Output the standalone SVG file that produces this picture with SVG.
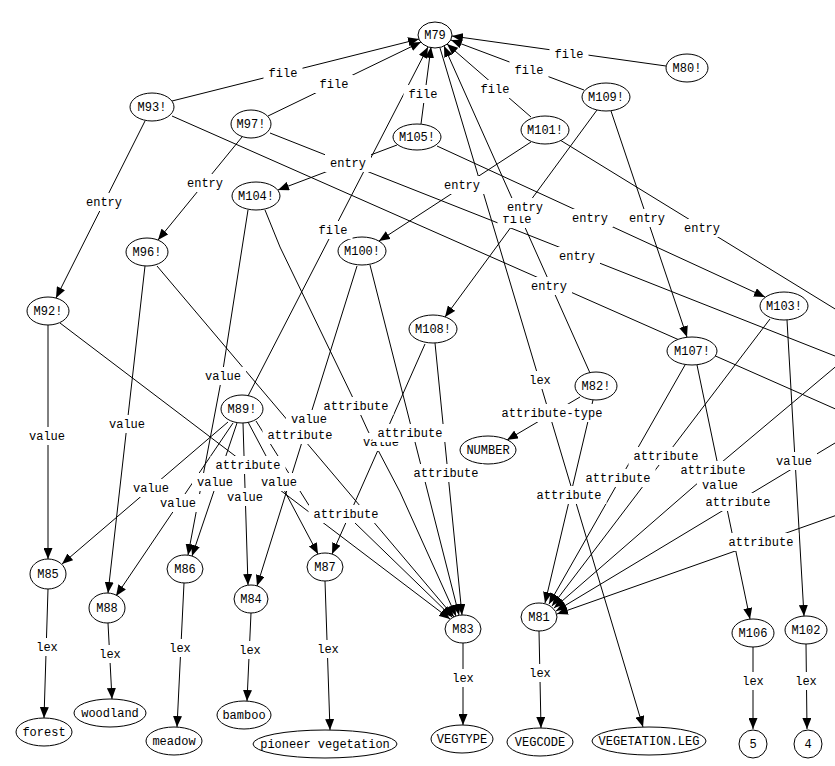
<svg xmlns="http://www.w3.org/2000/svg" width="835" height="766" viewBox="0 0 835 766">
<style>
text{font-family:"Liberation Mono","DejaVu Sans Mono",monospace;font-size:12px;text-anchor:middle;fill:#000}
.e path{fill:none;stroke:#000;stroke-width:1}
.node ellipse,.node circle{fill:#fff;stroke:#000;stroke-width:1}
.lb rect{fill:#fff}
</style>
<defs>
<marker id="a" viewBox="0 0 11 9" refX="11" refY="4.5" markerWidth="11" markerHeight="9" markerUnits="userSpaceOnUse" orient="auto"><path d="M0,0 L11,4.5 L0,9 z" fill="#000"/></marker>
</defs>
<rect width="835" height="766" fill="#fff"/>
<g id="connectors" class="e">
<g marker-end="url(#a)">
<path d="M172,101 L419,39"/>
<path d="M268,116 L421,42"/>
<path d="M421,124 L431,47"/>
<path d="M531,117 L447,44"/>
<path d="M584,90 L451,40"/>
<path d="M666,66 L452,36"/>
<path d="M248,396 L428,47"/>
<path d="M590,373 L444,46"/>
<path d="M440,48 L643,727"/>
<path d="M145,121 L56,298"/>
<path d="M242,137 L158,240"/>
<path d="M397,145 L278,190"/>
<path d="M531,142 L379,241"/>
<path d="M597,110 L445,317"/>
<path d="M611,111 L687,337"/>
<path d="M437,146 L765,297"/>
<path d="M48,325 L48,559"/>
<path d="M145,266 L108,593"/>
<path d="M248,210 L222,376 L188,555"/>
<path d="M60,323 L450,619"/>
<path d="M157,266 L454,617"/>
<path d="M265,210 L280,247 L352,396 L368,431 L400,492 L456,616"/>
<path d="M370,265 L459,615"/>
<path d="M435,343 L462,615"/>
<path d="M256,421 L310,507 L354,522 L452,617"/>
<path d="M425,344 L332,554"/>
<path d="M357,266 L257,586"/>
<path d="M228,422 L62,564"/>
<path d="M233,423 L116,596"/>
<path d="M237,423 L192,556"/>
<path d="M243,423 L248,585"/>
<path d="M248,422 L318,554"/>
<path d="M580,397 L507,440"/>
<path d="M593,400 L545,603"/>
<path d="M685,365 L549,604"/>
<path d="M770,319 L552,606"/>
<path d="M840,363 L722,462 L554,608"/>
<path d="M840,440 L556,611"/>
<path d="M840,514 L557,614"/>
<path d="M787,320 L804,616"/>
<path d="M697,365 L750,619"/>
<path d="M48,589 L44,718"/>
<path d="M108,623 L112,699"/>
<path d="M184,583 L177,727"/>
<path d="M251,613 L247,701"/>
<path d="M325,581 L330,730"/>
<path d="M463,643 L463,725"/>
<path d="M539,631 L541,728"/>
<path d="M753,647 L753,729"/>
<path d="M806,644 L807,729"/>
</g>
<path d="M560,140 L840,312"/>
<path d="M270,133 L840,358"/>
<path d="M172,116 L840,411"/>
</g>
<g id="M79" class="node"><ellipse cx="435" cy="35" rx="17" ry="13"/><text x="435" y="39">M79</text></g>
<g id="M80" class="node"><ellipse cx="687" cy="68" rx="21" ry="14"/><text x="687" y="72">M80!</text></g>
<g id="M93" class="node"><ellipse cx="152" cy="107" rx="22" ry="14"/><text x="152" y="111">M93!</text></g>
<g id="M97" class="node"><ellipse cx="251" cy="124" rx="20" ry="14"/><text x="251" y="128">M97!</text></g>
<g id="M105" class="node"><ellipse cx="417" cy="137" rx="24" ry="13"/><text x="417" y="141">M105!</text></g>
<g id="M101" class="node"><ellipse cx="545" cy="130" rx="24" ry="14"/><text x="545" y="134">M101!</text></g>
<g id="M109" class="node"><ellipse cx="606" cy="97" rx="24" ry="14"/><text x="606" y="101">M109!</text></g>
<g id="M104" class="node"><ellipse cx="256" cy="196" rx="24" ry="14"/><text x="256" y="200">M104!</text></g>
<g id="M96" class="node"><ellipse cx="147" cy="252" rx="21" ry="14"/><text x="147" y="256">M96!</text></g>
<g id="M100" class="node"><ellipse cx="362" cy="251" rx="24" ry="14"/><text x="362" y="255">M100!</text></g>
<g id="M92" class="node"><ellipse cx="48" cy="311" rx="21" ry="14"/><text x="48" y="315">M92!</text></g>
<g id="M108" class="node"><ellipse cx="433" cy="329" rx="24" ry="14"/><text x="433" y="333">M108!</text></g>
<g id="M103" class="node"><ellipse cx="784" cy="306" rx="24" ry="14"/><text x="784" y="310">M103!</text></g>
<g id="M107" class="node"><ellipse cx="692" cy="351" rx="25" ry="14"/><text x="692" y="355">M107!</text></g>
<g id="M82" class="node"><ellipse cx="596" cy="386" rx="21" ry="14"/><text x="596" y="390">M82!</text></g>
<g id="M89" class="node"><ellipse cx="242" cy="409" rx="21" ry="14"/><text x="242" y="413">M89!</text></g>
<g id="NUMBER" class="node"><ellipse cx="488" cy="450" rx="28" ry="14"/><text x="488" y="454">NUMBER</text></g>
<g id="M85" class="node"><ellipse cx="48" cy="574" rx="18" ry="15"/><text x="48" y="578">M85</text></g>
<g id="M88" class="node"><ellipse cx="107" cy="608" rx="18" ry="15"/><text x="107" y="612">M88</text></g>
<g id="M86" class="node"><ellipse cx="185" cy="569" rx="18" ry="14"/><text x="185" y="573">M86</text></g>
<g id="M84" class="node"><ellipse cx="251" cy="599" rx="17" ry="14"/><text x="251" y="603">M84</text></g>
<g id="M87" class="node"><ellipse cx="325" cy="567" rx="18" ry="14"/><text x="325" y="571">M87</text></g>
<g id="M83" class="node"><ellipse cx="463" cy="629" rx="18" ry="14"/><text x="463" y="633">M83</text></g>
<g id="M81" class="node"><ellipse cx="539" cy="617" rx="18" ry="14"/><text x="539" y="621">M81</text></g>
<g id="M106" class="node"><ellipse cx="753" cy="633" rx="21" ry="14"/><text x="753" y="637">M106</text></g>
<g id="M102" class="node"><ellipse cx="806" cy="630" rx="21" ry="14"/><text x="806" y="634">M102</text></g>
<g id="forest" class="node"><ellipse cx="44" cy="732" rx="28" ry="14"/><text x="44" y="736">forest</text></g>
<g id="woodland" class="node"><ellipse cx="110" cy="713" rx="36" ry="14"/><text x="110" y="717">woodland</text></g>
<g id="meadow" class="node"><ellipse cx="174" cy="741" rx="28" ry="14"/><text x="174" y="745">meadow</text></g>
<g id="bamboo" class="node"><ellipse cx="244" cy="715" rx="27" ry="14"/><text x="244" y="719">bamboo</text></g>
<g id="pioneer" class="node"><ellipse cx="325" cy="744" rx="72" ry="14"/><text x="325" y="748">pioneer vegetation</text></g>
<g id="VEGTYPE" class="node"><ellipse cx="462" cy="739" rx="31" ry="14"/><text x="462" y="743">VEGTYPE</text></g>
<g id="VEGCODE" class="node"><ellipse cx="540" cy="742" rx="33" ry="14"/><text x="540" y="746">VEGCODE</text></g>
<g id="VEGLEG" class="node"><ellipse cx="649" cy="741" rx="57" ry="14"/><text x="649" y="745">VEGETATION.LEG</text></g>
<g id="n5" class="node"><circle cx="753" cy="744" r="14"/><text x="753" y="748">5</text></g>
<g id="n4" class="node"><circle cx="808" cy="744" r="14"/><text x="808" y="748">4</text></g>
<g id="labels" class="lb">
<rect x="263.5" y="64" width="39" height="18"/><text x="283" y="77">file</text>
<rect x="314.5" y="75" width="39" height="18"/><text x="334" y="88">file</text>
<rect x="403.5" y="85" width="39" height="18"/><text x="423" y="98">file</text>
<rect x="475.5" y="80" width="39" height="18"/><text x="495" y="93">file</text>
<rect x="509.5" y="61" width="39" height="18"/><text x="529" y="74">file</text>
<rect x="549.5" y="45" width="39" height="18"/><text x="569" y="58">file</text>
<rect x="313.5" y="221" width="39" height="18"/><text x="333" y="234">file</text>
<rect x="497.5" y="210" width="39" height="18"/><text x="517" y="223">file</text>
<rect x="81" y="193" width="46" height="18"/><text x="104" y="206">entry</text>
<rect x="182" y="174" width="46" height="18"/><text x="205" y="187">entry</text>
<rect x="325" y="154" width="46" height="18"/><text x="348" y="167">entry</text>
<rect x="439" y="176" width="46" height="18"/><text x="462" y="189">entry</text>
<rect x="502" y="198" width="46" height="18"/><text x="525" y="211">entry</text>
<rect x="567" y="209" width="46" height="18"/><text x="590" y="222">entry</text>
<rect x="624" y="209" width="46" height="18"/><text x="647" y="222">entry</text>
<rect x="679" y="219" width="46" height="18"/><text x="702" y="232">entry</text>
<rect x="554" y="247" width="46" height="18"/><text x="577" y="260">entry</text>
<rect x="526" y="277" width="46" height="18"/><text x="549" y="290">entry</text>
<rect x="524" y="371" width="32" height="18"/><text x="540" y="384">lex</text>
<rect x="31" y="638" width="32" height="18"/><text x="47" y="651">lex</text>
<rect x="94" y="645" width="32" height="18"/><text x="110" y="658">lex</text>
<rect x="164" y="639" width="32" height="18"/><text x="180" y="652">lex</text>
<rect x="234" y="641" width="32" height="18"/><text x="250" y="654">lex</text>
<rect x="312" y="640" width="32" height="18"/><text x="328" y="653">lex</text>
<rect x="447" y="669" width="32" height="18"/><text x="463" y="682">lex</text>
<rect x="524" y="664" width="32" height="18"/><text x="540" y="677">lex</text>
<rect x="737" y="672" width="32" height="18"/><text x="753" y="685">lex</text>
<rect x="790" y="672" width="32" height="18"/><text x="806" y="685">lex</text>
<rect x="24" y="427" width="46" height="18"/><text x="47" y="440">value</text>
<rect x="104" y="415" width="46" height="18"/><text x="127" y="428">value</text>
<rect x="200" y="367" width="46" height="18"/><text x="223" y="380">value</text>
<rect x="286" y="410" width="46" height="18"/><text x="309" y="423">value</text>
<rect x="358" y="433" width="46" height="18"/><text x="381" y="446">value</text>
<rect x="128" y="479" width="46" height="18"/><text x="151" y="492">value</text>
<rect x="155" y="494" width="46" height="18"/><text x="178" y="507">value</text>
<rect x="192" y="473" width="46" height="18"/><text x="215" y="486">value</text>
<rect x="222" y="488" width="46" height="18"/><text x="245" y="501">value</text>
<rect x="256" y="473" width="46" height="18"/><text x="279" y="486">value</text>
<rect x="697" y="476" width="46" height="18"/><text x="720" y="489">value</text>
<rect x="771" y="452" width="46" height="18"/><text x="794" y="465">value</text>
<rect x="318.5" y="397" width="75" height="18"/><text x="356" y="410">attribute</text>
<rect x="262.5" y="426" width="75" height="18"/><text x="300" y="439">attribute</text>
<rect x="372.5" y="424" width="75" height="18"/><text x="410" y="437">attribute</text>
<rect x="408.5" y="464" width="75" height="18"/><text x="446" y="477">attribute</text>
<rect x="210.5" y="456" width="75" height="18"/><text x="248" y="469">attribute</text>
<rect x="308.5" y="505" width="75" height="18"/><text x="346" y="518">attribute</text>
<rect x="628.5" y="447" width="75" height="18"/><text x="666" y="460">attribute</text>
<rect x="580.5" y="469" width="75" height="18"/><text x="618" y="482">attribute</text>
<rect x="531.5" y="486" width="75" height="18"/><text x="569" y="499">attribute</text>
<rect x="675.5" y="461" width="75" height="18"/><text x="713" y="474">attribute</text>
<rect x="700.5" y="493" width="75" height="18"/><text x="738" y="506">attribute</text>
<rect x="723.5" y="533" width="75" height="18"/><text x="761" y="546">attribute</text>
<rect x="496.5" y="404" width="111" height="18"/><text x="552" y="417">attribute-type</text>
</g>
</svg>
